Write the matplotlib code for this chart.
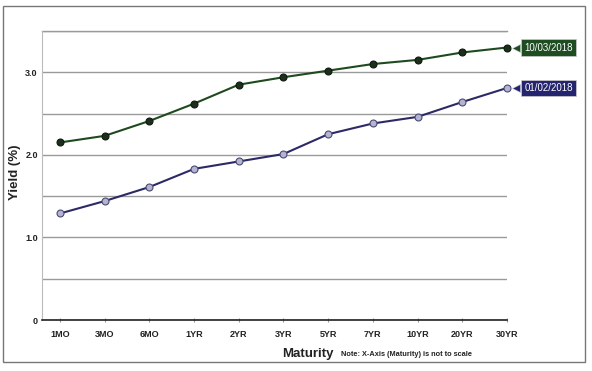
import matplotlib.pyplot as plt
from matplotlib.patches import Rectangle
from matplotlib.transforms import offset_copy

# data
maturities = ["1MO", "3MO", "6MO", "1YR", "2YR", "3YR", "5YR", "7YR", "10YR", "20YR", "30YR"]
yield_oct = [2.15, 2.23, 2.41, 2.62, 2.85, 2.94, 3.02, 3.10, 3.15, 3.24, 3.30]
yield_jan = [1.29, 1.44, 1.61, 1.83, 1.92, 2.01, 2.25, 2.38, 2.46, 2.64, 2.81]
label_oct = "10/03/2018"
label_jan = "01/02/2018"

green_line = "#1f4a1f"
green_box = "#1e4d22"
blue_line = "#2b2a66"
blue_box = "#25246e"

plt.rcParams["font.family"] = ["Liberation Sans", "DejaVu Sans"]

W, H = 592, 371
fig = plt.figure(figsize=(W / 100, H / 100), dpi=100)
ax = fig.add_axes([42 / W, 1 - 320 / H, (507 - 42) / W, (320 - 31) / H])

# outer frame
fig.patches.append(Rectangle((3 / W, 1 - 362 / H), 582 / W, 356 / H, transform=fig.transFigure,
                             fill=False, edgecolor="#777777", linewidth=1.0))

x = list(range(len(maturities)))
ax.plot(x, yield_oct, color=green_line, lw=1.5, marker="o", ms=5,
        mfc="#1c2e1c", mec="#0f1a0f", mew=0.8, zorder=3, clip_on=False)
ax.plot(x, yield_jan, color=blue_line, lw=1.5, marker="o", ms=5,
        mfc="#b4b4d2", mec="#4a4a70", mew=0.8, zorder=3, clip_on=False)

ax.set_xlim(-0.4, len(maturities) - 1)
ax.set_ylim(0, 3.5)
ax.set_yticks([0, 0.5, 1.0, 1.5, 2.0, 2.5, 3.0, 3.5])
ax.set_yticklabels(["0", "", "1.0", "", "2.0", "", "3.0", ""])
ax.yaxis.grid(True, color="#9a9a9a", lw=1.0)
ax.set_axisbelow(True)
ax.set_xticks(x)
ax.set_xticklabels(maturities)
ax.tick_params(axis="x", length=3, direction="inout", color="#999999", pad=6, labelsize=6.5)
ax.tick_params(axis="y", length=0, pad=3, labelsize=6.5)
for lbl in ax.get_xticklabels() + ax.get_yticklabels():
    lbl.set_fontweight("bold")
    lbl.set_color("#222222")

for side in ["top", "right"]:
    ax.spines[side].set_visible(False)
ax.spines["left"].set_color("#bbbbbb")
ax.spines["bottom"].set_color("#222222")
ax.spines["bottom"].set_linewidth(1.2)
ax.axhline(3.5, color="#9a9a9a", lw=1.0, clip_on=False)

# end labels: box with a small pointer toward the last point
for yv, txt, col in [(yield_oct[-1], label_oct, green_box), (yield_jan[-1], label_jan, blue_box)]:
    tr_tip = offset_copy(ax.transData, fig=fig, x=9, y=0, units="dots")
    ax.plot([x[-1]], [yv], marker="<", ms=6, color=col, mec="#cccccc", mew=0.4,
            transform=tr_tip, clip_on=False, zorder=4)
    ax.annotate(txt, xy=(x[-1], yv), xytext=(12.5, 0), textcoords="offset points",
                va="center", ha="left", fontsize=7, color="white", annotation_clip=False,
                bbox=dict(boxstyle="square,pad=0.35", fc=col, ec="#cccccc", lw=0.5), zorder=5)

fig.text(15 / W, 1 - 172 / H, "Yield (%)", rotation=90, ha="center", va="center",
         fontsize=9.5, fontweight="bold", color="#222222")
fig.text(308 / W, 1 - 354 / H, "Maturity", ha="center", va="center",
         fontsize=9.5, fontweight="bold", color="#222222")
fig.text(341 / W, 1 - 355 / H, "Note: X-Axis (Maturity) is not to scale", ha="left", va="center",
         fontsize=5.3, fontweight="bold", color="#222222")

fig.savefig("out.png", dpi=100)
